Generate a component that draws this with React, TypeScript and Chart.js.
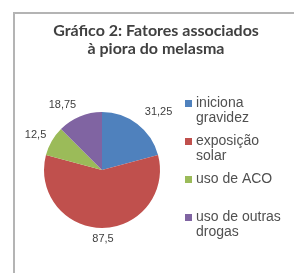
import React, { useEffect, useRef } from "react";
import { Chart, registerables } from "chart.js";

Chart.register(...registerables);

const TITLE_LINES = ["Gráfico 2: Fatores associados", "à piora do melasma"];
const CATEGORIES = [
  ["iniciona", "gravidez"],
  ["exposição", "solar"],
  ["uso de ACO"],
  ["uso de outras", "drogas"],
];
const VALUES = [31.25, 87.5, 12.5, 18.75];
const VALUE_LABELS = ["31,25", "87,5", "12,5", "18,75"];
const COLORS = ["#4F81BD", "#C0504D", "#9BBB59", "#8064A2"];
// small per-label nudges (px) to mimic the spreadsheet's "best fit" placement
const LABEL_NUDGE = [
  [8, -6],
  [1, 3],
  [0, -2],
  [-9, -4],
];

const decorPlugin = {
  id: "decor",
  afterDraw(chart: any) {
    const ctx = chart.ctx as CanvasRenderingContext2D;
    ctx.save();
    ctx.strokeStyle = "#b4b4b4";
    ctx.lineWidth = 2;
    ctx.beginPath();
    ctx.moveTo(14, 273);
    ctx.lineTo(14, 13);
    ctx.lineTo(294, 13);
    ctx.stroke();

    ctx.fillStyle = "#404040";
    ctx.font = "bold 16px Lato";
    ctx.textAlign = "center";
    ctx.textBaseline = "middle";
    TITLE_LINES.forEach((t, i) => ctx.fillText(t, 156, 31 + i * 18));

    const meta = chart.getDatasetMeta(0);
    ctx.font = "11px 'Liberation Sans'";
    ctx.fillStyle = "#404040";
    meta.data.forEach((arc: any, i: number) => {
      const mid = (arc.startAngle + arc.endAngle) / 2;
      const r = arc.outerRadius + 8;
      const dx = Math.cos(mid);
      const dy = Math.sin(mid);
      const w = ctx.measureText(VALUE_LABELS[i]).width;
      const x = arc.x + dx * r + dx * (w / 2) + LABEL_NUDGE[i][0];
      const y = arc.y + dy * r + LABEL_NUDGE[i][1];
      ctx.textAlign = "center";
      ctx.textBaseline = "middle";
      ctx.fillText(VALUE_LABELS[i], x, y);
    });

    ctx.font = "14px 'Liberation Sans'";
    ctx.textAlign = "left";
    ctx.textBaseline = "middle";
    CATEGORIES.forEach((lines, i) => {
      const y0 = 103 + i * 38;
      ctx.fillStyle = COLORS[i];
      ctx.fillRect(185, y0 - 3, 7, 7);
      ctx.fillStyle = "#505050";
      lines.forEach((t, j) => ctx.fillText(t, 196, y0 + j * 15));
    });
    ctx.restore();
  },
};

export default function App() {
  const ref = useRef<HTMLCanvasElement>(null);
  useEffect(() => {
    if (!ref.current) return;
    const chart = new Chart(ref.current, {
      type: "pie",
      data: {
        labels: CATEGORIES.map((c) => c.join(" ")),
        datasets: [
          {
            data: VALUES,
            backgroundColor: COLORS,
            borderWidth: 0,
          },
        ],
      },
      options: {
        animation: false,
        responsive: false,
        maintainAspectRatio: false,
        layout: { padding: { left: 44, top: 112, right: 134, bottom: 45 } },
        plugins: {
          legend: { display: false },
          title: { display: false },
          tooltip: { enabled: false },
        },
      },
      plugins: [decorPlugin],
    });
    return () => chart.destroy();
  }, []);
  return (
    <div style={{ position: "fixed", left: 0, top: 0, width: 294, height: 273, background: "#fff" }}>
      <canvas ref={ref} width={294} height={273} style={{ width: 294, height: 273 }} />
    </div>
  );
}
